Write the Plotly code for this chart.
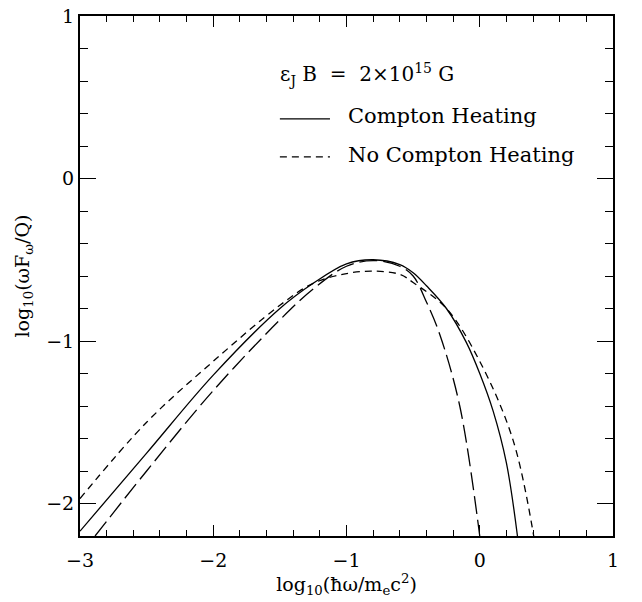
import plotly.graph_objects as go

# Compton heating (solid)
x_compton = [-3.0, -2.5, -2.0, -1.5, -1.25, -1.0, -0.8, -0.6, -0.5, -0.4, -0.25, -0.1, 0.0, 0.1, 0.2, 0.283]
y_compton = [-2.17, -1.69, -1.21, -0.80, -0.645, -0.525, -0.50, -0.53, -0.58, -0.66, -0.80, -1.01, -1.20, -1.43, -1.75, -2.2]

# No Compton heating (short dash)
x_nocompton = [-3.0, -2.5, -2.0, -1.5, -1.25, -1.0, -0.8, -0.6, -0.5, -0.25, 0.0, 0.25, 0.405]
y_nocompton = [-1.97, -1.50, -1.125, -0.78, -0.645, -0.585, -0.57, -0.59, -0.64, -0.80, -1.125, -1.61, -2.2]

# Third curve (long dash, unlabeled)
x_third = [-2.887, -2.5, -2.0, -1.5, -1.25, -1.0, -0.8, -0.6, -0.5, -0.4, -0.3, -0.15, 0.0]
y_third = [-2.2, -1.80, -1.305, -0.87, -0.68, -0.54, -0.505, -0.54, -0.60, -0.76, -0.96, -1.40, -2.2]

x_ticks = [-3, -2, -1, 0, 1]
y_ticks = [-2, -1, 0, 1]

FONT = "DejaVu Serif"
SHORT_DASH = "7px,5px"
LONG_DASH = "18px,6px"

fig = go.Figure()
fig.add_trace(go.Scatter(x=x_compton, y=y_compton, mode="lines",
                         line=dict(color="black", width=1.3, shape="spline"), name="Compton Heating"))
fig.add_trace(go.Scatter(x=x_nocompton, y=y_nocompton, mode="lines",
                         line=dict(color="black", width=1.3, shape="spline", dash=SHORT_DASH), name="No Compton Heating"))
fig.add_trace(go.Scatter(x=x_third, y=y_third, mode="lines",
                         line=dict(color="black", width=1.3, shape="spline", dash=LONG_DASH), name="third"))

axis_common = dict(
    showgrid=False, zeroline=False, showline=True, linecolor="black", linewidth=2,
    mirror="allticks", ticks="inside", tickcolor="black", tickwidth=1.3,
    tickfont=dict(family=FONT, size=19, color="black"), ticklabeloverflow="allow",
)

fig.update_xaxes(range=[-3, 1], tickvals=x_ticks, ticklen=11, ticklabelstandoff=6,
                 minor=dict(dtick=0.2, ticks="inside", ticklen=6, tickcolor="black", tickwidth=1.3),
                 title=dict(text="log<sub>10</sub>(ħω/m<sub>e</sub>c<sup>2</sup>)",
                            font=dict(family=FONT, size=19, color="black"), standoff=6),
                 **axis_common)
fig.update_yaxes(range=[-2.2, 1], tickvals=y_ticks, ticklen=16,
                 minor=dict(dtick=0.2, ticks="inside", ticklen=8, tickcolor="black", tickwidth=1.3),
                 title=dict(text="log<sub>10</sub>(ωF<sub>ω</sub>/Q)",
                            font=dict(family=FONT, size=19, color="black"), standoff=12),
                 **axis_common)

# custom legend
fig.add_annotation(xref="paper", yref="paper", x=0.372, y=0.887, xanchor="left", yanchor="middle",
                   text="ε<sub>J</sub> B  =  2×10<sup>15</sup> G", showarrow=False,
                   font=dict(family=FONT, size=20, color="black"))
fig.add_shape(type="line", xref="paper", yref="paper", x0=0.375, x1=0.469, y0=0.802, y1=0.802,
              line=dict(color="black", width=1.3))
fig.add_annotation(xref="paper", yref="paper", x=0.499, y=0.808, xanchor="left", yanchor="middle",
                   text="Compton Heating", showarrow=False,
                   font=dict(family=FONT, size=21, color="black"))
fig.add_shape(type="line", xref="paper", yref="paper", x0=0.375, x1=0.469, y0=0.729, y1=0.729,
              line=dict(color="black", width=1.3, dash=SHORT_DASH))
fig.add_annotation(xref="paper", yref="paper", x=0.499, y=0.733, xanchor="left", yanchor="middle",
                   text="No Compton Heating", showarrow=False,
                   font=dict(family=FONT, size=21, color="black"))

fig.update_layout(
    width=642, height=602,
    margin=dict(l=80, r=29, t=5, b=66),
    plot_bgcolor="white", paper_bgcolor="white",
    showlegend=False,
)

fig.write_html("out.html", config={"displayModeBar": False},
               post_script="document.body.style.margin='0';document.body.style.overflow='hidden';")
